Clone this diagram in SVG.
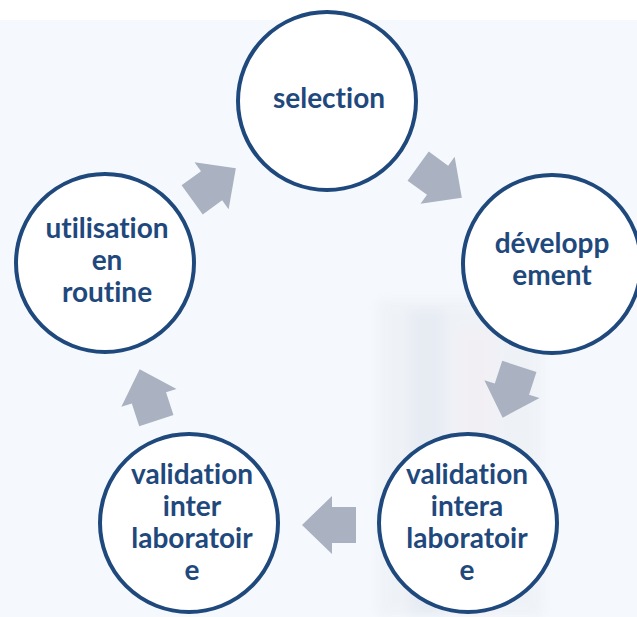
<svg xmlns="http://www.w3.org/2000/svg" width="637" height="617" viewBox="0 0 637 617">
  <defs>
    <style>
      .node circle { fill: #ffffff; stroke: #1f497d; stroke-width: 4; }
      .node text { font-family: Lato, "Open Sans", "Liberation Sans", sans-serif; font-weight: bold; font-size: 28px; fill: #1f497d; text-anchor: middle; font-variant-ligatures: none; font-feature-settings: "liga" 0; }
      .arrow { fill: #aab1c0; }
    </style>
    <!-- block arrow pointing along +x, centred on the origin -->
    <polygon id="blockArrow" points="-27,-18 -3,-18 -3,-29 27,0 -3,29 -3,18 -27,18"/>
    <filter id="haze" x="-20%" y="-20%" width="140%" height="140%">
      <feGaussianBlur stdDeviation="6"/>
    </filter>
  </defs>

  <!-- backdrop -->
  <rect x="0" y="0" width="637" height="617" fill="#f5f9fd"/>
  <rect x="0" y="0" width="637" height="20" fill="#ffffff"/>
  <!-- faint picture behind the cycle -->
  <g opacity="0.4" filter="url(#haze)">
    <rect x="378" y="300" width="165" height="317" fill="#e6e8ee"/>
    <rect x="410" y="310" width="34" height="307" fill="#d3d9e6"/>
    <rect x="458" y="330" width="36" height="287" fill="#efe2e8"/>
  </g>

  <!-- connectors -->
  <g id="connectors" class="arrow">
    <use href="#blockArrow" transform="translate(440,182) rotate(36)"/>
    <use href="#blockArrow" transform="translate(511,392) rotate(108)"/>
    <use href="#blockArrow" transform="translate(329,525) rotate(180)"/>
    <use href="#blockArrow" transform="translate(148,395) rotate(252)"/>
    <use href="#blockArrow" transform="translate(214,184) rotate(324)"/>
  </g>

  <!-- nodes -->
  <g id="selection" class="node">
    <circle cx="327" cy="101" r="89"/>
    <text x="329" y="108">selection</text>
  </g>
  <g id="developpement" class="node">
    <circle cx="552" cy="264" r="89"/>
    <text x="552" y="253">développ</text>
    <text x="552" y="285">ement</text>
  </g>
  <g id="validation-intera" class="node">
    <circle cx="468" cy="523" r="89"/>
    <text x="467" y="484">validation</text>
    <text x="467" y="516">intera</text>
    <text x="467" y="548">laboratoir</text>
    <text x="467" y="580">e</text>
  </g>
  <g id="validation-inter" class="node">
    <circle cx="189" cy="523" r="89"/>
    <text x="192" y="484">validation</text>
    <text x="192" y="516">inter</text>
    <text x="192" y="548">laboratoir</text>
    <text x="192" y="580">e</text>
  </g>
  <g id="utilisation" class="node">
    <circle cx="105" cy="263" r="89"/>
    <text x="107" y="238">utilisation</text>
    <text x="107" y="270">en</text>
    <text x="107" y="302">routine</text>
  </g>
</svg>
